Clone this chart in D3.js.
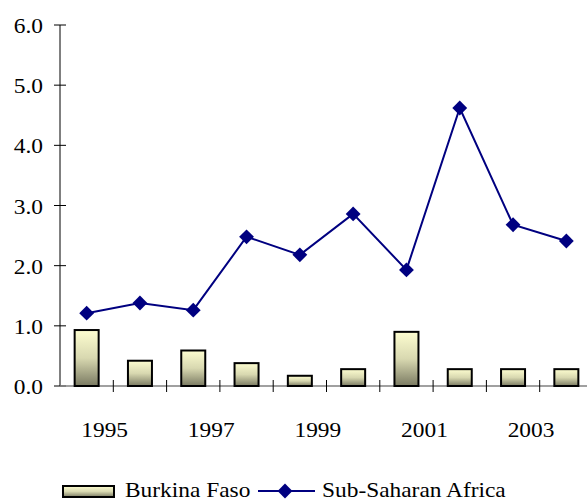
<!DOCTYPE html>
<html>
<head>
<meta charset="utf-8">
<script src="https://cdn.jsdelivr.net/npm/d3@7"></script>
<style>
  body { margin: 0; background: #fff; }
</style>
</head>
<body>
<div id="chart"></div>
<script>
// data
const years = ["1995", "1996", "1997", "1998", "1999", "2000", "2001", "2002", "2003", "2004"];
const burkina = [0.93, 0.42, 0.59, 0.38, 0.17, 0.28, 0.90, 0.28, 0.28, 0.28];
const ssa = [1.21, 1.38, 1.26, 2.48, 2.18, 2.86, 1.93, 4.62, 2.68, 2.41];
const yTicks = [0, 1, 2, 3, 4, 5, 6];
const xLabels = ["1995", "1997", "1999", "2001", "2003"];

const width = 587,
  height = 502;

const svg = d3
  .select("#chart")
  .append("svg")
  .attr("width", width)
  .attr("height", height)
  .style("font-family", "'Liberation Serif', 'DejaVu Serif', serif");

// the original text is a little wider than it is tall
function label(parent, x, y, anchor, str) {
  parent
    .append("text")
    .attr("transform", `translate(${x},${y}) scale(1.17,1)`)
    .attr("text-anchor", anchor)
    .style("font-size", "20px")
    .text(str);
}

// gradient for the bars
const grad = svg
  .append("defs")
  .append("linearGradient")
  .attr("id", "barGrad")
  .attr("x1", 0)
  .attr("y1", 0)
  .attr("x2", 0)
  .attr("y2", 1);
grad.append("stop").attr("offset", "0%").attr("stop-color", "#fdfdd0");
grad.append("stop").attr("offset", "50%").attr("stop-color", "#d8d8b0");
grad.append("stop").attr("offset", "100%").attr("stop-color", "#7a7a62");

// scales
const x = d3.scaleBand().domain(years).range([60, 593]).padding(0);
const y = d3.scaleLinear().domain([0, 6]).range([386, 25]);

// y axis
svg
  .append("line")
  .attr("x1", 60)
  .attr("x2", 60)
  .attr("y1", y(6))
  .attr("y2", y(0))
  .attr("stroke", "#000")
  .attr("stroke-width", 1);

svg
  .selectAll(".ytick")
  .data(yTicks)
  .enter()
  .append("line")
  .attr("x1", 54)
  .attr("x2", 66)
  .attr("y1", (d) => y(d))
  .attr("y2", (d) => y(d))
  .attr("stroke", "#000");

yTicks.forEach((d) => label(svg, 43, y(d) + 8, "end", d.toFixed(1)));

// x axis
svg
  .append("line")
  .attr("x1", 60)
  .attr("x2", 593)
  .attr("y1", y(0))
  .attr("y2", y(0))
  .attr("stroke", "#808080")
  .attr("stroke-width", 1.5);

svg
  .selectAll(".xtick")
  .data(years.slice(1).concat(["end"]))
  .enter()
  .append("line")
  .attr("x1", (d, i) => 60 + (i + 1) * x.bandwidth())
  .attr("x2", (d, i) => 60 + (i + 1) * x.bandwidth())
  .attr("y1", y(0) - 6)
  .attr("y2", y(0) + 6)
  .attr("stroke", "#000");

xLabels.forEach((d) =>
  label(svg, x(d) + x.bandwidth() / 2 + 18, 437, "middle", d)
);

// bars
const barW = 24;
svg
  .selectAll(".bar")
  .data(burkina)
  .enter()
  .append("rect")
  .attr("class", "bar")
  .attr("x", (d, i) => x(years[i]) + x.bandwidth() / 2 - barW / 2)
  .attr("y", (d) => y(d))
  .attr("width", barW)
  .attr("height", (d) => y(0) - y(d))
  .attr("fill", "url(#barGrad)")
  .attr("stroke", "#000")
  .attr("stroke-width", 2);

// line
const line = d3
  .line()
  .x((d, i) => x(years[i]) + x.bandwidth() / 2)
  .y((d) => y(d));

svg
  .append("path")
  .datum(ssa)
  .attr("d", line)
  .attr("fill", "none")
  .attr("stroke", "#000080")
  .attr("stroke-width", 2);

const diamond = d3.symbol().type(d3.symbolDiamond2).size(140);
svg
  .selectAll(".marker")
  .data(ssa)
  .enter()
  .append("path")
  .attr("d", diamond)
  .attr("transform", (d, i) => `translate(${x(years[i]) + x.bandwidth() / 2},${y(d)})`)
  .attr("fill", "#000080");

// legend
const legend = svg.append("g");
legend
  .append("rect")
  .attr("x", 63)
  .attr("y", 486)
  .attr("width", 51)
  .attr("height", 11)
  .attr("fill", "url(#barGrad)")
  .attr("stroke", "#000")
  .attr("stroke-width", 2);
label(legend, 125, 497, "start", "Burkina Faso");
legend
  .append("line")
  .attr("x1", 258)
  .attr("x2", 315)
  .attr("y1", 491)
  .attr("y2", 491)
  .attr("stroke", "#000080")
  .attr("stroke-width", 2);
legend
  .append("path")
  .attr("d", diamond)
  .attr("transform", "translate(285,491)")
  .attr("fill", "#000080");
label(legend, 322, 497, "start", "Sub-Saharan Africa");
</script>
</body>
</html>
